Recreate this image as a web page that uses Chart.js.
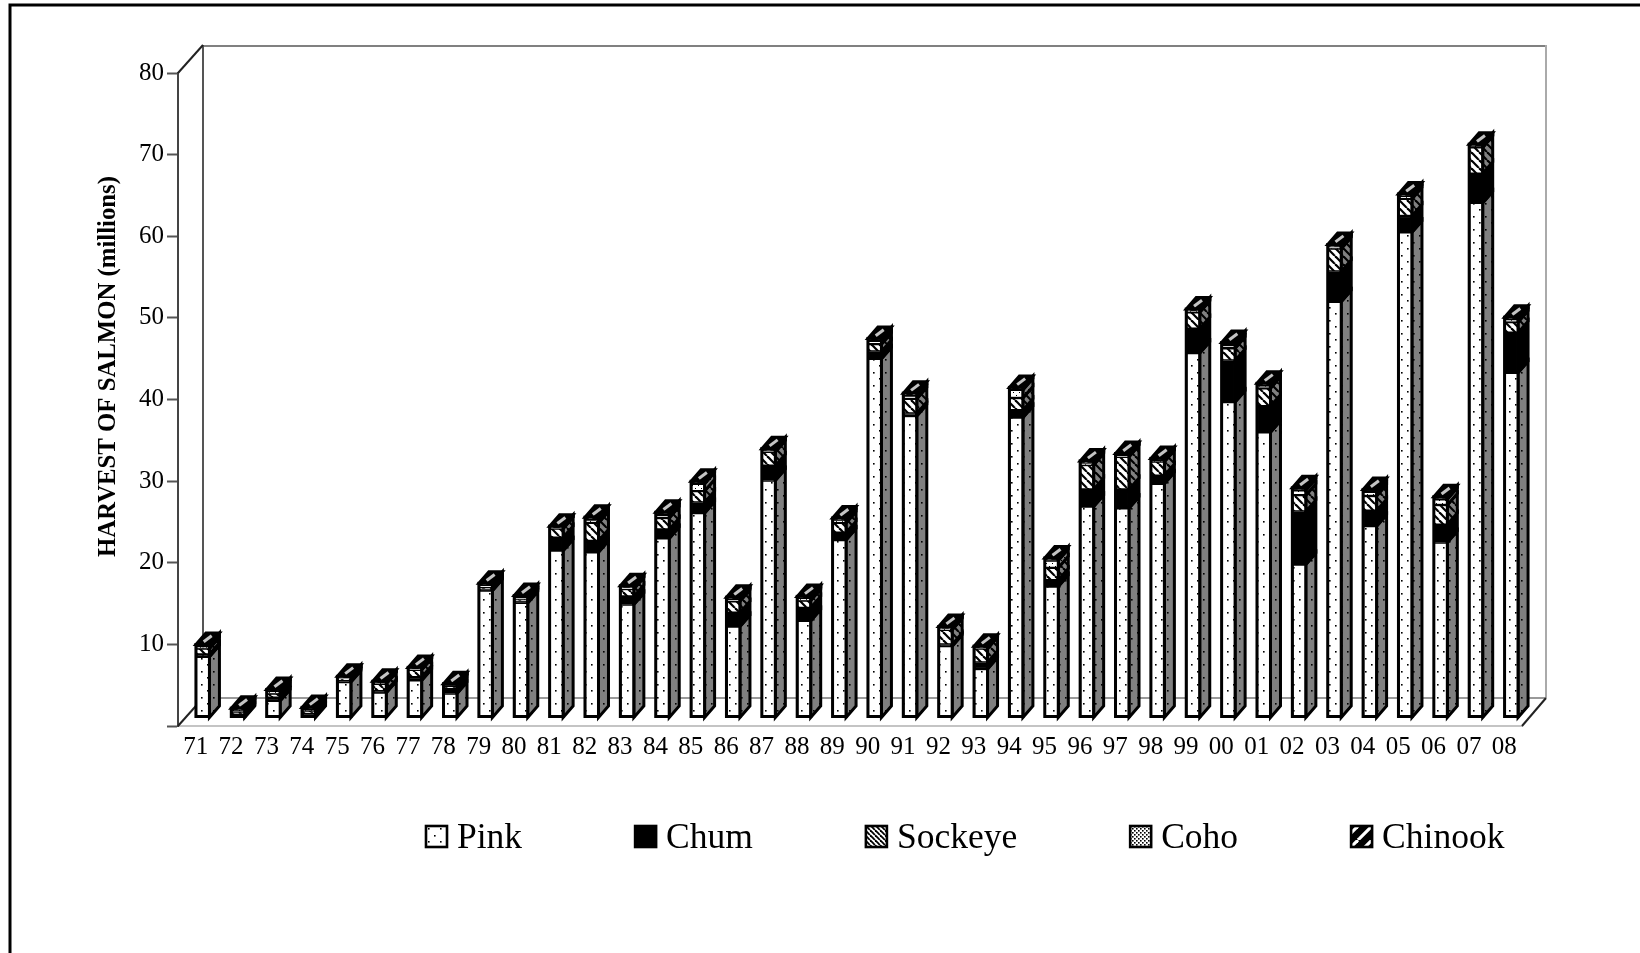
<!DOCTYPE html>
<html>
<head>
<meta charset="utf-8">
<style>html,body{margin:0;padding:0;background:#fff}canvas{display:block}</style>
<script src="https://cdn.jsdelivr.net/npm/chart.js@4"></script>
</head>
<body>
<canvas id="c" width="1640" height="953"></canvas>
<script>
const years = ['71','72','73','74','75','76','77','78','79','80','81','82','83','84','85','86','87','88','89','90','91','92','93','94','95','96','97','98','99','00','01','02','03','04','05','06','07','08'];
const pink    = [7.5,.2,2.1,.2,4.4,3.1,4.6,3.0,15.6,14.1,20.5,20.3,13.9,22.0,25.1,11.2,29.1,11.9,21.8,44.0,37.0,8.8,6.0,36.8,16.1,25.9,25.7,28.7,44.7,38.7,35.0,18.8,51.0,23.5,59.5,21.5,63.1,42.3];
const chum    = [.3,.2,.4,.3,.2,.2,.4,.6,.2,.2,1.6,1.4,1.0,1.1,1.3,1.7,1.8,1.6,.9,.9,.3,.2,.8,.9,.8,2.1,2.3,1.0,3.0,5.1,3.2,6.5,3.7,1.9,2.0,2.2,3.6,4.9];
const sockeye = [.7,.4,.5,.4,.2,.9,.9,.3,.2,.2,1.1,2.2,.9,1.4,1.4,1.4,1.7,.9,1.2,.9,1.8,1.8,1.7,1.5,1.5,3.0,4.0,1.7,2.0,1.5,2.2,2.0,2.8,1.8,2.1,2.4,3.2,1.3];
const coho    = [.2,.1,.2,.1,.05,.05,.05,.05,.2,.2,.05,.4,.1,.4,.9,.2,.1,.2,.3,.4,.4,.1,.05,1.0,.9,.2,.1,.1,.1,.4,.3,.6,.2,.5,.3,.7,.1,.3];
const chinook = [.3,.3,.3,.3,.25,.25,.25,.25,.3,.3,.25,.3,.3,.3,.3,.3,.3,.3,.3,.3,.3,.3,.25,.3,.3,.3,.3,.3,.3,.3,.3,.3,.3,.3,.3,.3,.3,.3];
const seriesNames = ['Pink','Chum','Sockeye','Coho','Chinook'];
const seriesValues = [pink,chum,sockeye,coho,chinook];
const yTicks = [10,20,30,40,50,60,70,80];
const yTitle = 'HARVEST OF SALMON (millions)';

const serif = '"Liberation Serif","Times New Roman",serif';
const GRAY = '#808080';
const depthX = 10, depthY = 11.5;
const planeX = 7, planeY = -8;
const legendFont = 35.5, legendGap = 113, legendBoxW = 13.25;

function tile(w, h, bg, draw){
  const t = document.createElement('canvas'); t.width = w; t.height = h;
  const g = t.getContext('2d'); g.fillStyle = bg; g.fillRect(0,0,w,h);
  g.fillStyle = '#000'; g.strokeStyle = '#000'; draw(g);
  return document.createElement('canvas').getContext('2d').createPattern(t,'repeat');
}
const dots = g => { g.fillRect(2,3,1.6,1.6); g.fillRect(8,9,1.6,1.6); };
const back = (p,col,lw) => g => { g.strokeStyle = col; g.lineWidth = lw; for(let i=-p;i<=p*2;i+=p){ g.beginPath(); g.moveTo(i,0); g.lineTo(i+p,p); g.stroke(); } };
const fwd  = (p,col,lw) => g => { g.strokeStyle = col; g.lineWidth = lw; for(let i=-p;i<=p*2;i+=p){ g.beginPath(); g.moveTo(i+p,0); g.lineTo(i,p); g.stroke(); } };
const sparse = g => { g.fillRect(1,1,1,1); g.fillRect(4,4,1,1); };
const dense = g => { g.fillRect(0,0,1.6,1.6); g.fillRect(2,2,1.6,1.6); };

const frontFill = [
  tile(12,13,'#fff',dots),
  '#000',
  tile(8,8,'#fff',back(8,'#000',2.2)),
  tile(6,6,'#fff',sparse),
  tile(10,10,'#000',fwd(10,'#fff',2.5))
];
const sideFill = [
  tile(12,13,GRAY,dots),
  '#000',
  tile(8,8,GRAY,back(8,'#000',2.2)),
  tile(6,6,GRAY,sparse),
  '#000'
];
const swatchFill = [
  tile(12,13,'#fff',dots),
  '#000',
  tile(5,5,'#fff',back(5,'#000',1.8)),
  tile(4,4,'#fff',dense),
  tile(14,14,'#000',fwd(14,'#fff',3.2))
];

const depthPlugin = {
  id: 'depth',
  afterLayout(chart){
    const t = chart.titleBlock;
    if (t){ t.top = 176; t.bottom = 557; }
    const l = chart.legend;
    if (l){
      const w = l.right - l.left, h = l.bottom - l.top;
      l.left = 426 - legendGap; l.right = l.left + w;
      l.top = 839 - legendGap - legendFont/2; l.bottom = l.top + h + 60;
    }
  },
  beforeDraw(chart){
    const g = chart.ctx;
    g.save();
    g.fillStyle = '#fff'; g.fillRect(0,0,chart.width,chart.height);
    g.strokeStyle = '#000'; g.lineWidth = 3;
    g.beginPath(); g.moveTo(1640,5); g.lineTo(10,5); g.lineTo(10,953); g.stroke();
    g.restore();
  },
  beforeDatasetsDraw(chart){
    const g = chart.ctx, a = chart.chartArea;
    const dx = 25, dy = 28;
    g.save();
    g.lineWidth = 2;
    const line = (c,x1,y1,x2,y2) => { g.strokeStyle = c; g.beginPath(); g.moveTo(x1,y1); g.lineTo(x2,y2); g.stroke(); };
    line('#808080', a.left+dx, a.top-dy+1, a.right+dx-1, a.top-dy+1);
    line('#555', a.left+dx, a.top-dy, a.left+dx, a.bottom-dy);
    line('#999', a.left+dx, a.bottom-dy, a.right+dx-1, a.bottom-dy);
    line('#aaa', a.right+dx-1, a.top-dy, a.right+dx-1, a.bottom-dy);
    line('#222', a.left, a.top, a.left+dx, a.top-dy);
    line('#222', a.left, a.bottom, a.left+dx, a.bottom-dy);
    line('#222', a.right, a.bottom, a.right+dx-1, a.bottom-dy);
    g.restore();

    g.save();
    g.translate(planeX, planeY);
    g.lineWidth = 3; g.strokeStyle = '#000'; g.lineJoin = 'miter';
    chart.data.datasets.forEach((ds,i) => {
      chart.getDatasetMeta(i).data.forEach(b => {
        const p = b.getProps(['x','y','base','width'], true);
        const r = p.x + p.width/2, l = p.x - p.width/2;
        g.fillStyle = sideFill[i];
        g.beginPath();
        g.moveTo(r,p.y); g.lineTo(r+depthX,p.y-depthY); g.lineTo(r+depthX,p.base-depthY); g.lineTo(r,p.base); g.closePath();
        g.fill(); g.stroke();
        if (i === chart.data.datasets.length-1){
          g.fillStyle = '#000';
          g.beginPath();
          g.moveTo(l,p.y); g.lineTo(r,p.y); g.lineTo(r+depthX,p.y-depthY); g.lineTo(l+depthX,p.y-depthY); g.closePath();
          g.fill(); g.stroke();
          const cx = p.x + depthX/2, cy = p.y - depthY/2;
          g.save(); g.strokeStyle = '#c4c4c4'; g.lineWidth = 3;
          g.beginPath(); g.moveTo(cx-4,cy+3); g.lineTo(cx+4,cy-3); g.stroke(); g.restore();
        }
      });
    });
  },
  afterDatasetsDraw(chart){
    const g = chart.ctx;
    const n = chart.data.datasets.length;
    const first = chart.getDatasetMeta(0).data, last = chart.getDatasetMeta(n-1).data;
    g.lineWidth = 3; g.strokeStyle = '#000';
    first.forEach((b,k) => {
      const p = b.getProps(['x','base','width'], true);
      const t = last[k].getProps(['y'], true);
      g.strokeRect(p.x - p.width/2, t.y, p.width, p.base - t.y - 1);
    });
    g.restore();
  },
  afterDraw(chart){
    const g = chart.ctx;
    g.save();
    g.font = legendFont + 'px ' + serif;
    g.lineWidth = 2.6; g.strokeStyle = '#000';
    let x = 426;
    seriesNames.forEach((n,i) => {
      g.fillStyle = '#fff'; g.fillRect(x,826,21,21);
      g.fillStyle = swatchFill[i]; g.fillRect(x,826,21,21);
      g.strokeRect(x,826,21,21);
      x += legendBoxW + legendFont/2 + g.measureText(n).width + legendGap;
    });
    g.restore();
  }
};

const chart = new Chart(document.getElementById('c').getContext('2d'), {
  type: 'bar',
  data: {
    labels: years,
    datasets: seriesNames.map((n,i) => ({
      label: n, data: seriesValues[i],
      backgroundColor: frontFill[i], borderColor: '#000', borderWidth: 1.5,
      borderSkipped: false, barThickness: 13.5, clip: false
    }))
  },
  options: {
    responsive: false, animation: false, devicePixelRatio: 1,
    layout: { padding: { left: 94, top: 73, right: 118, bottom: 20 } },
    scales: {
      x: {
        stacked: true,
        grid: { display: false, drawTicks: false },
        border: { display: true, color: '#c4c4c4', width: 2 },
        ticks: { color: '#000', font: { family: serif, size: 25 }, padding: 6, maxRotation: 0, minRotation: 0, autoSkip: false },
        afterFit(s){ s.height = 40; }
      },
      y: {
        stacked: true, min: 0, max: 80,
        afterBuildTicks(s){ s.ticks = [0].concat(yTicks).map(v => ({value: v})); },
        grid: { drawOnChartArea: false, drawTicks: true, tickLength: 11, tickColor: '#555', tickWidth: 2 },
        border: { display: true, color: '#444', width: 2 },
        ticks: { color: '#000', font: { family: serif, size: 25 }, padding: 3, callback: v => v === 0 ? '' : String(v) },
        afterFit(s){ s.width = 178 - 94 - 29.76; }
      }
    },
    plugins: {
      tooltip: { enabled: false },
      title: { display: true, text: yTitle, position: 'left', padding: 0, color: '#000', font: { family: serif, size: 24.8, weight: 'bold' } },
      legend: {
        display: true, position: 'bottom', align: 'start',
        labels: { color: '#000', font: { family: serif, size: legendFont }, boxWidth: legendBoxW, boxHeight: 15, padding: legendGap }
      }
    }
  },
  plugins: [depthPlugin]
});
const off = chart.chartArea.bottom - 726;
if (Math.abs(off) > 0.01){ chart.options.layout.padding.bottom += off; chart.update('none'); }
</script>
</body>
</html>
